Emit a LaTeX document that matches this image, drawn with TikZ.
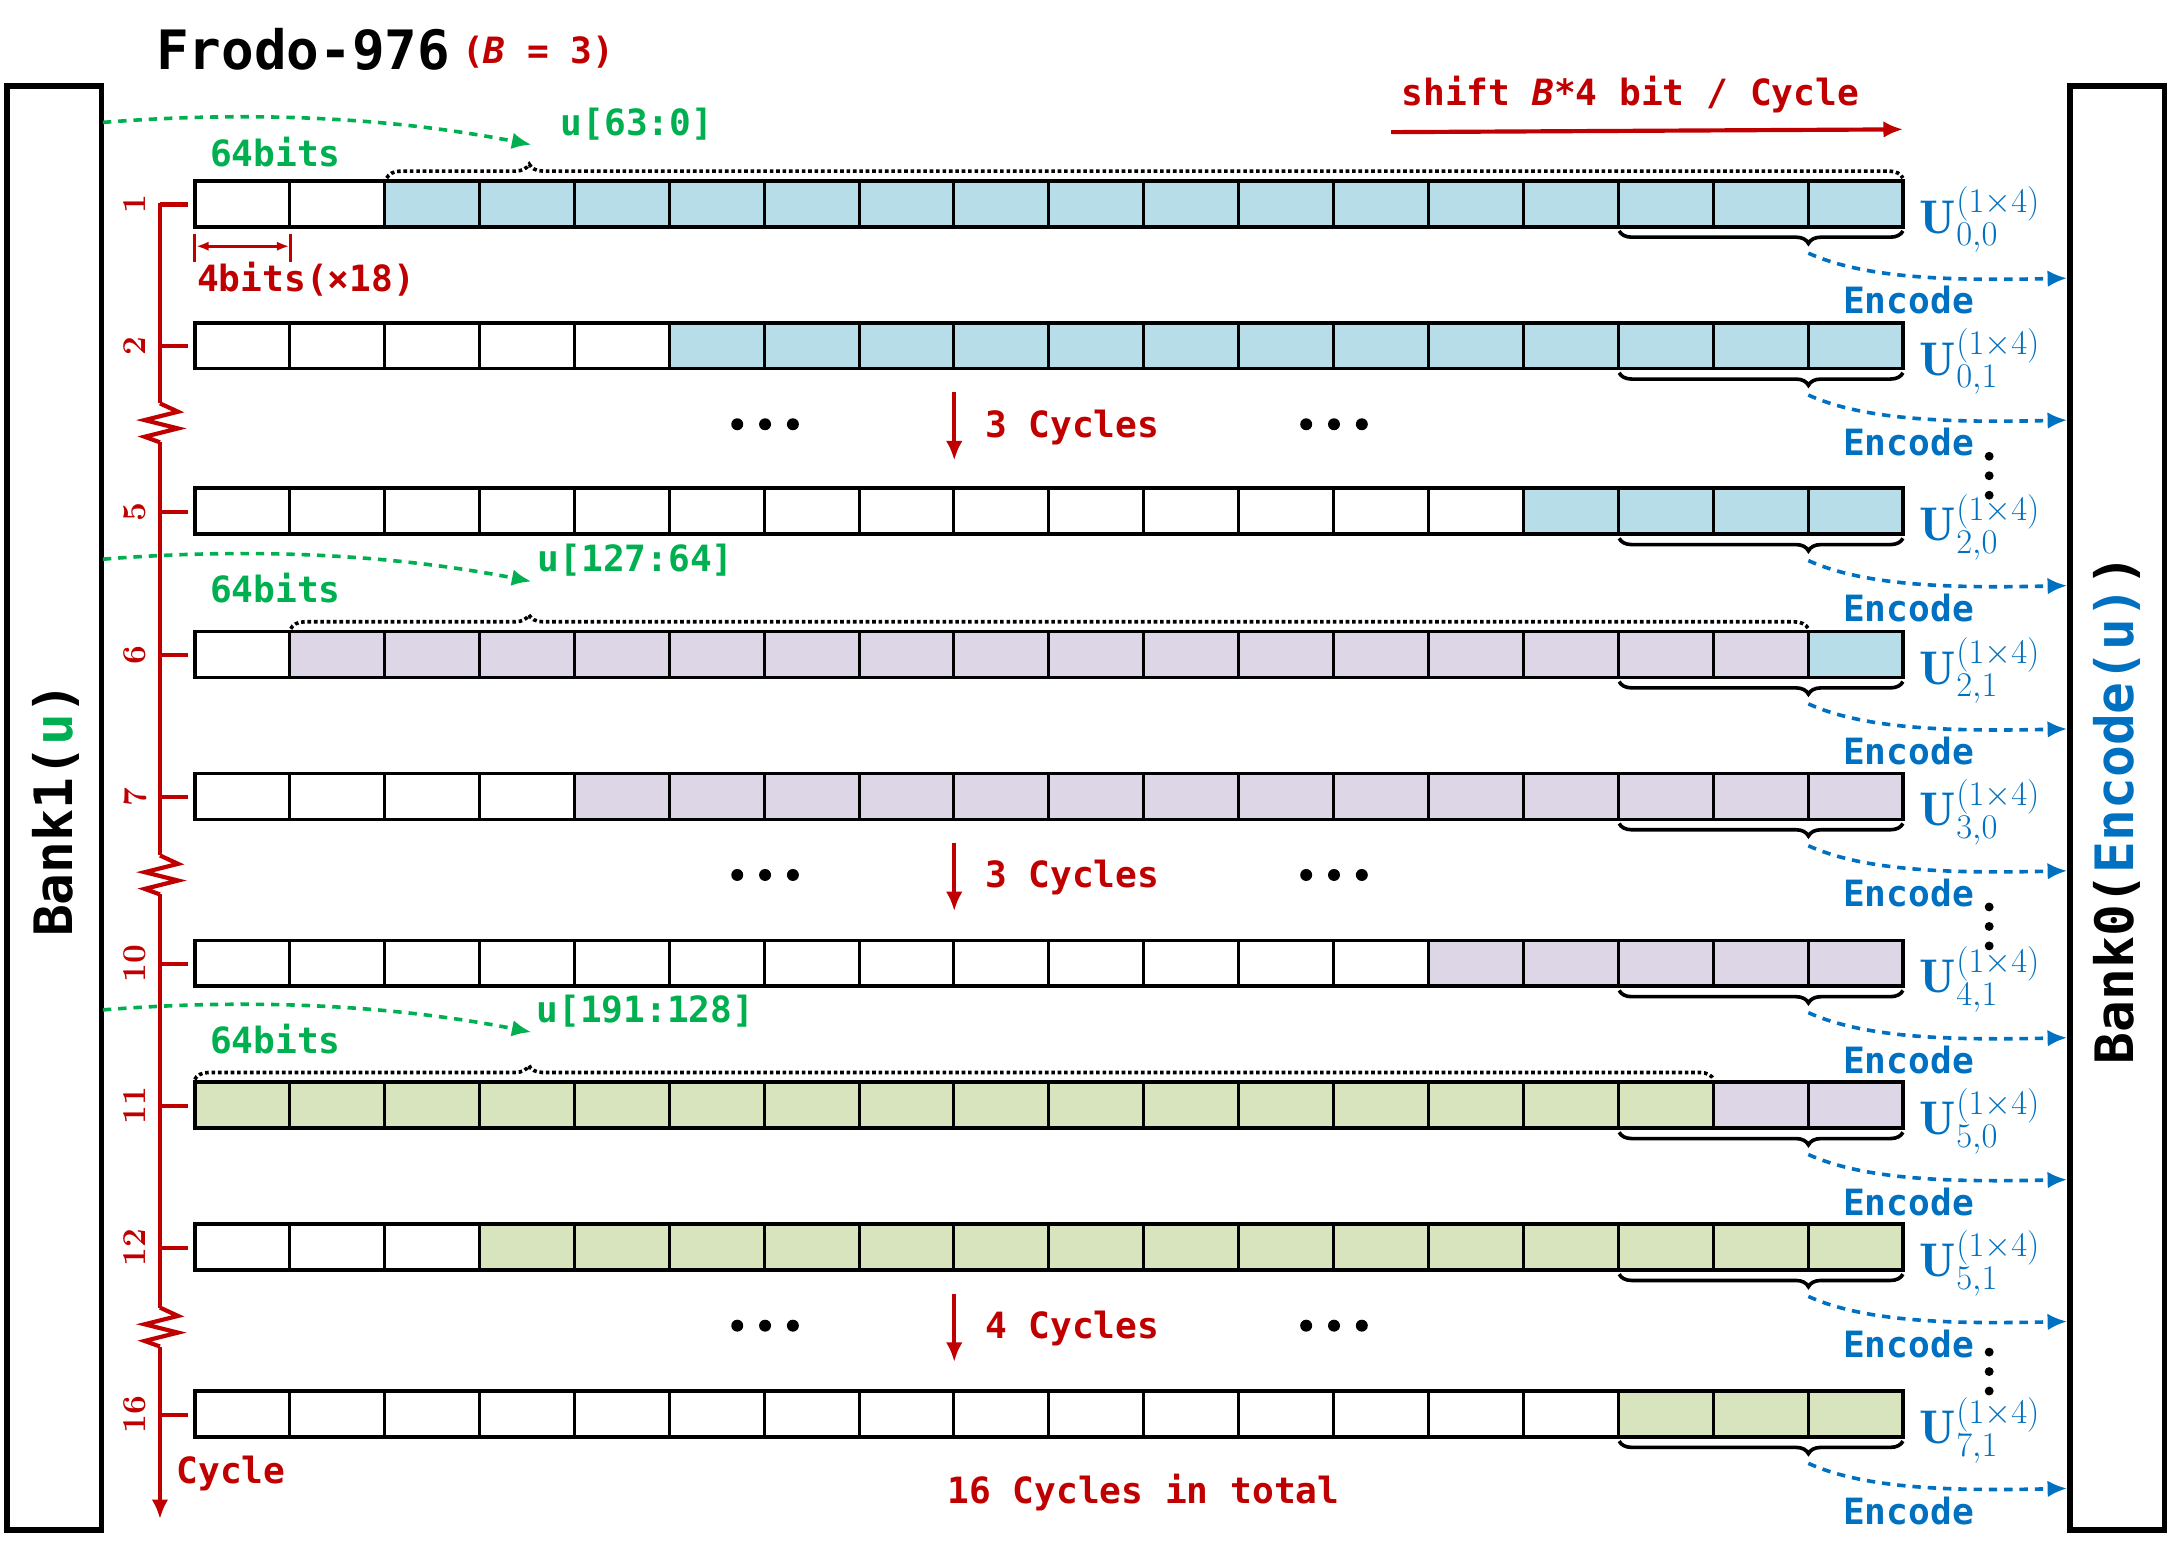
\documentclass[tikz,border=0pt]{standalone}
\usepackage{fontspec}
\setmonofont{DejaVu Sans Mono}
\usetikzlibrary{decorations.pathreplacing,arrows.meta,calc}
\definecolor{cblue}{HTML}{B7DDE8}
\definecolor{cpurple}{HTML}{DCD6E6}
\definecolor{cgreen}{HTML}{D7E4BD}
\definecolor{myred}{HTML}{C00000}
\definecolor{mygreen}{HTML}{00B050}
\definecolor{myblue}{HTML}{0070C0}
\newcommand{\fs}[1]{\fontsize{#1}{#1}\selectfont}
\begin{document}
\begin{tikzpicture}[x=1pt,y=-1pt,
  lbl/.style={font=\fs{26}\ttfamily\bfseries,inner sep=0pt},
  cellbox/.style={draw=black,line width=2.6pt},
  bank/.style={draw=black,line width=4pt},
  enc/.style={myblue,line width=2.6pt,dash pattern=on 6pt off 5pt,-{Latex[length=14pt,width=12pt]}},
  gin/.style={mygreen,line width=2.6pt,dash pattern=on 6pt off 5pt,-{Latex[length=14pt,width=12pt]}},
  brc/.style={decorate,decoration={brace,mirror,amplitude=9pt,aspect=0.667},line width=2.6pt},
  dbrc/.style={decorate,decoration={brace,amplitude=10pt,aspect=#1},line width=2.6pt,dotted},
  rarr/.style={myred,line width=3pt,-{Latex[length=14pt,width=12pt]}}]
\useasboundingbox (0,0) rectangle (1560,1111);
% banks
\draw[bank] (5,62) rectangle (73,1100);
\draw[bank] (1488,62) rectangle (1556,1100);
\node[rotate=90,font=\fs{38}\ttfamily\bfseries] (b1) at (40,582) {Bank1(\textcolor{mygreen}{u})};
\node[rotate=90,font=\fs{38}\ttfamily\bfseries] (b0) at (1522,582) {Bank0(\textcolor{myblue}{Encode(u)})};
% title
\node[anchor=base west,font=\fs{39}\ttfamily\bfseries,inner sep=0pt] (title) at (112,50) {Frodo-976};
\node[anchor=base west,font=\fs{26}\ttfamily\bfseries,text=myred,inner sep=0pt] (bb) at (332,46) {(\textit{B} = 3)};
% shift label
\node[lbl,text=myred] (shift) at (1172,68) {shift \textit{B}*4 bit / Cycle};
\coordinate (s1) at (1000,95); \coordinate (s2) at (1368,93);
\draw[rarr] (s1) -- (s2);
% rows
\foreach \n/\t/\w/\e/\ca/\cb in {1/130/2/17/cblue/cblue,2/232/5/17/cblue/cblue,5/351/14/17/cblue/cblue,6/454/1/16/cpurple/cblue,7/556/4/17/cpurple/cpurple,10/676/13/17/cpurple/cpurple,11/778/0/15/cgreen/cpurple,12/880/3/17/cgreen/cgreen,16/1000/15/17/cgreen/cgreen}{
  \foreach \i in {0,...,17}{
    \ifnum\i<\w \def\cc{white}\else\ifnum\i>\e \def\cc{\cb}\else\def\cc{\ca}\fi\fi
    \fill[\cc] ({140+68.222*\i},\t) rectangle ({140+68.222*(\i+1)},\t+33);
    \draw[black,line width=2.2pt] ({140+68.222*\i},\t) -- ({140+68.222*\i},\t+33);
  }
  \draw[cellbox] (140,\t) rectangle (1368,\t+33);
  \draw[brc] (1164,\t+36) -- (1368,\t+36);
  \coordinate (bt\n) at (1300,\t+52);
  \coordinate (be\n) at (1486,\t+70);
  \draw[enc] (bt\n) .. controls (1340,\t+70) and (1400,\t+72) .. (be\n);
  \node[lbl,text=myblue] (enc\n) at (1372,\t+86) {Encode};
  % timeline tick & number
  \draw[myred,line width=3pt] (115,\t+17) -- (135,\t+17);
  \node[rotate=90,font=\fs{24}\bfseries,text=myred,inner sep=0pt] (num\n) at (97,\t+17) {\n};
}
% U labels
\foreach \n/\t/\s in {1/130/{0,0},2/232/{0,1},5/351/{2,0},6/454/{2,1},7/556/{3,0},10/676/{4,1},11/778/{5,0},12/880/{5,1},16/1000/{7,1}}{
  \node[anchor=west,text=myblue,font=\fs{34},inner sep=0pt] (U\n) at (1380,\t+28) {$\mathbf{U}^{(1\times4)}_{\s}$};
}
% vertical dots
\foreach \y in {328,652,972}{
  \foreach \d in {0,14,28}{\fill (1430,\y+\d) circle (3.2);}
}
% dotted braces
\draw[dbrc=0.094] (278,128) -- (1368,128);
\draw[dbrc=0.157] (209,452) -- (1300,452);
\draw[dbrc=0.22] (140,776) -- (1232,776);
% green arrows
\foreach \y/\lab/\lx in {88/{u[63:0]}/458, 402/{u[127:64]}/457, 726/{u[191:128]}/464}{
  \coordinate (gs\y) at (74,\y);
  \coordinate (ge\y) at (382,\y+16);
  \draw[gin] (gs\y) .. controls (200,\y-10) and (300,\y) .. (ge\y);
  \node[lbl,text=mygreen] (gl\y) at (\lx,\y+1) {\lab};
  \node[lbl,text=mygreen] (gb\y) at (198,\y+21) {64bits};
}
% 4bits dimension
\draw[myred,line width=1.8pt] (140,168) -- (140,188) (209,168) -- (209,188);
\coordinate (d1) at (141,177); \coordinate (d2) at (208,177);
\draw[myred,line width=2.2pt,{Latex[length=9pt]}-{Latex[length=9pt]}] (d1) -- (d2);
\node[lbl,text=myred] (fourb) at (220,201) {4bits(×18)};
% timeline
\coordinate (ta) at (115,146); \coordinate (tb) at (115,1092);
\draw[myred,line width=3pt] (ta) -- (115,290);
\foreach \z/\nx in {290/628,615/945,940/1092}{
  \draw[myred,line width=3pt] (115,\z) -- (128,\z+6) -- (104,\z+12) -- (128,\z+18) -- (104,\z+24) -- (115,\z+28);
}
\draw[myred,line width=3pt] (115,318) -- (115,615);
\draw[myred,line width=3pt] (115,643) -- (115,940);
\draw[rarr] (115,968) -- (tb);
\node[lbl,text=myred] (cyc) at (166,1059) {Cycle};
\node[lbl,text=myred] (tot) at (822,1073) {16 Cycles in total};
% middle dots & cycle arrows
\foreach \y/\c in {305/3,629/3,953/4}{
  \foreach \xx in {530,550,570,939,959,979}{\fill (\xx,\y) circle (4.3);}
  \coordinate (ma\y) at (686,\y-23); \coordinate (mb\y) at (686,\y+26);
  \draw[rarr] (ma\y) -- (mb\y);
  \node[lbl,text=myred,anchor=west] (mc\y) at (708,\y+2) {\c{} Cycles};
}
\end{tikzpicture}
\end{document}
